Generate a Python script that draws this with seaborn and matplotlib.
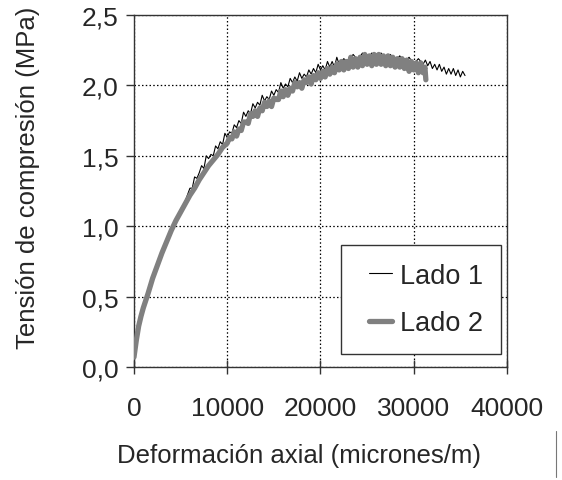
import pandas as pd
import matplotlib.pyplot as plt
import seaborn as sns
from matplotlib.lines import Line2D
from matplotlib.legend_handler import HandlerLine2D
from matplotlib.ticker import FuncFormatter

# Lado 1 (thin black, noisy)
lado1_x = [0, 400, 800, 1200, 1600, 2000, 2500, 3000, 3500, 4000, 4500, 5000, 5500,
           6000, 6250, 6500, 6750, 7000, 7250, 7500, 7750, 8000, 8250, 8500, 8750,
           9000, 9250, 9500, 9750, 10000, 10250, 10500, 10750, 11000, 11250, 11500, 11750,
           12000, 12250, 12500, 12750, 13000, 13250, 13500, 13750, 14000, 14250, 14500, 14750,
           15000, 15250, 15500, 15750, 16000, 16250, 16500, 16750, 17000, 17250, 17500, 17750,
           18000, 18250, 18500, 18750, 19000, 19250, 19500, 19750, 20000, 20250, 20500, 20750,
           21000, 21250, 21500, 21750, 22000, 22500, 23000, 23500, 24000, 24500, 25000, 25500,
           26000, 26500, 27000, 27500, 28000, 28500, 29000, 29500, 30000, 30500, 31000,
           31250, 31500, 31750, 32000, 32250, 32500, 32750, 33000, 33250, 33500, 33750,
           34000, 34250, 34500, 34750, 35000, 35250, 35500]
lado1_y = [0.03, 0.27, 0.39, 0.48, 0.56, 0.64, 0.73, 0.82, 0.90, 0.98, 1.05, 1.12, 1.18,
           1.27, 1.27, 1.35, 1.34, 1.38, 1.43, 1.41, 1.50, 1.48, 1.51, 1.50, 1.57,
           1.55, 1.60, 1.58, 1.66, 1.63, 1.67, 1.66, 1.72, 1.70, 1.75, 1.73, 1.81,
           1.78, 1.82, 1.80, 1.87, 1.84, 1.88, 1.86, 1.93, 1.89, 1.92, 1.90, 1.96,
           1.93, 1.97, 1.95, 2.02, 1.98, 2.01, 1.99, 2.05, 2.02, 2.06, 2.03, 2.09,
           2.05, 2.08, 2.06, 2.11, 2.08, 2.12, 2.09, 2.15, 2.11, 2.14, 2.11, 2.17,
           2.13, 2.17, 2.13, 2.20, 2.15, 2.19, 2.16, 2.22, 2.18, 2.23, 2.18, 2.23,
           2.19, 2.23, 2.18, 2.22, 2.17, 2.21, 2.16, 2.20, 2.15, 2.19, 2.15,
           2.18, 2.14, 2.17, 2.12, 2.15, 2.11, 2.15, 2.10, 2.13, 2.08, 2.12,
           2.08, 2.12, 2.07, 2.11, 2.06, 2.10, 2.07]

# Lado 2 (thick gray band)
lado2_x = [0, 250, 500, 750, 1000, 1500, 2000, 2500, 3000, 3500, 4000, 4500, 5000, 5500,
           6000, 6500, 7000, 7500, 8000, 8500, 9000, 9500, 10000,
           10250, 10500, 10750, 11000, 11250, 11500, 11750, 12000, 12250, 12500, 12750, 13000,
           13250, 13500, 13750, 14000, 14250, 14500, 14750, 15000, 15250, 15500, 15750, 16000,
           16250, 16500, 16750, 17000, 17250, 17500, 17750, 18000, 18250, 18500, 18750, 19000,
           19250, 19500, 19750, 20000, 20250, 20500, 20750, 21000, 21250, 21500, 21750, 22000,
           22250, 22500, 22750, 23000, 23250, 23500, 23750, 24000, 24250, 24500, 24750, 25000,
           25250, 25500, 25750, 26000, 26250, 26500, 26750, 27000, 27250, 27500, 27750, 28000,
           28250, 28500, 28750, 29000, 29250, 29500, 29750, 30000, 30250, 30500, 30750, 31000,
           31200, 31300]
lado2_y = [0.07, 0.19, 0.29, 0.36, 0.42, 0.52, 0.63, 0.72, 0.81, 0.89, 0.97, 1.04, 1.10, 1.16,
           1.22, 1.27, 1.33, 1.38, 1.43, 1.47, 1.51, 1.56, 1.59,
           1.63, 1.62, 1.67, 1.64, 1.69, 1.68, 1.74, 1.74, 1.73, 1.80, 1.78, 1.82,
           1.78, 1.84, 1.82, 1.88, 1.85, 1.89, 1.85, 1.91, 1.90, 1.90, 1.96, 1.92,
           1.97, 1.93, 1.98, 1.96, 2.02, 1.99, 2.02, 1.98, 2.04, 2.02, 2.06, 2.01,
           2.07, 2.04, 2.09, 2.05, 2.10, 2.06, 2.12, 2.08, 2.13, 2.09, 2.15, 2.11,
           2.17, 2.11, 2.17, 2.12, 2.20, 2.13, 2.19, 2.13, 2.20, 2.14, 2.22, 2.15,
           2.21, 2.14, 2.22, 2.15, 2.22, 2.15, 2.21, 2.14, 2.21, 2.14, 2.20, 2.13,
           2.19, 2.13, 2.19, 2.12, 2.18, 2.10, 2.17, 2.11, 2.16, 2.09, 2.16, 2.09,
           2.13, 2.04]

x_ticks = [0, 10000, 20000, 30000, 40000]
y_ticks = [0.0, 0.5, 1.0, 1.5, 2.0, 2.5]

df1 = pd.DataFrame({"x": lado1_x, "y": lado1_y})
df2 = pd.DataFrame({"x": lado2_x, "y": lado2_y})

sns.set_theme(style="white")
plt.rcParams['font.family'] = ['Liberation Sans', 'DejaVu Sans']

fig = plt.figure(figsize=(5.62, 4.81), dpi=100)
ax = fig.add_axes([0.2384, 0.2349, 0.6637, 0.7318])

sns.lineplot(data=df1, x="x", y="y", ax=ax, sort=False, estimator=None,
             color="black", linewidth=0.8, label="Lado 1", zorder=2)
sns.lineplot(data=df2, x="x", y="y", ax=ax, sort=False, estimator=None,
             color="#808080", linewidth=3.8, label="Lado 2", zorder=3)

ax.set_xlim(0, 40000)
ax.set_ylim(0, 2.5)
ax.set_xticks(x_ticks)
ax.set_yticks(y_ticks)
ax.yaxis.set_major_formatter(FuncFormatter(lambda v, p: f"{v:.1f}".replace(".", ",")))
ax.xaxis.set_major_formatter(FuncFormatter(lambda v, p: f"{int(v)}"))

ax.grid(True, color="black", linestyle=(0, (1.2, 1.8)), linewidth=0.9)
for s in ax.spines.values():
    s.set_color("#333333")
    s.set_linewidth(1.0)

ax.tick_params(axis="y", direction="out", length=6, width=1, color="#333333",
               labelsize=19, pad=5, left=True)
ax.tick_params(axis="x", direction="inout", length=10, width=1, color="#333333",
               labelsize=19, pad=16, bottom=True)

ax.set_xlabel("Deformación axial (micrones/m)", fontsize=18.5)
ax.set_ylabel("Tensión de compresión (MPa)", fontsize=18.5)
ax.xaxis.set_label_coords(0.442, -0.216)
ax.yaxis.set_label_coords(-0.252, 0.54)

handles, labels = ax.get_legend_handles_labels()
leg = ax.legend(handles, labels, loc="lower right", bbox_to_anchor=(0.984, 0.037),
                fontsize=19.5, frameon=True, fancybox=False, edgecolor="#333333",
                framealpha=1, handlelength=1.25, handletextpad=0.3, labelspacing=0.8,
                borderpad=0.65, borderaxespad=0,
                handler_map={h: HandlerLine2D(xpad=0.4) for h in handles})
leg.get_frame().set_linewidth(1.0)

# small stray mark at the bottom right of the original figure
fig.add_artist(Line2D([556 / 562, 556 / 562], [1 - 478 / 481, 1 - 432 / 481],
                      color="#777777", linewidth=0.8))

fig.savefig("out.png", dpi=100)
